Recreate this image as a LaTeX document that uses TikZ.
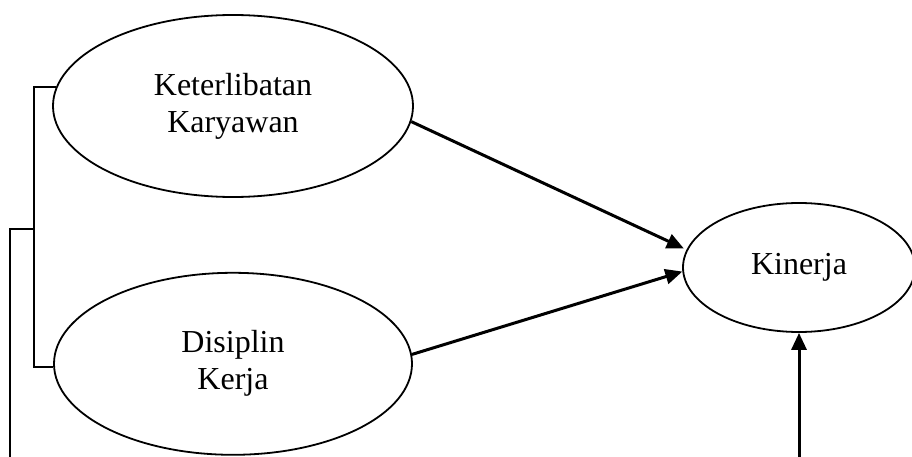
\documentclass[tikz,border=0pt]{standalone}
\usepackage{fontspec}
\setmainfont{Liberation Serif}
\usetikzlibrary{shapes.geometric, arrows.meta}
\usetikzlibrary{positioning}
\tikzset{
    every node/.style={font=\fontsize{32}{37}\selectfont},
    var node/.style={ellipse,draw,line width=1.8pt,align=center,inner sep=0pt}
}

\begin{document}
\begin{tikzpicture}[
            > = {Triangle[length=17pt,width=15pt]}, % arrow head style
            x = 1pt, y = -1pt, % pixel units
            line width = 1.8pt
        ]

        \useasboundingbox (0,0) rectangle (912,457);

        \node[var node, minimum width=360pt, minimum height=182pt] (ket) at (233,106) {Keterlibatan\\Karyawan};
        \node[var node, minimum width=358pt, minimum height=182pt] (dis) [below=74pt of ket] {Disiplin\\Kerja};
        \node[var node, minimum width=232pt, minimum height=129pt] (kin) at (799,267.5) {Kinerja};

        % bracket on the left
        \coordinate (brk) at (34,229);
        \coordinate (out) at (10,229);
        \coordinate (outend) at (10,457);
        \coordinate (kinin) at (799,457);

        \draw (ket.174) -| (brk) |- (dis.181);
        \draw (brk) -- (out) -- (outend);

        \draw[->, line width=3pt, shorten >=3pt] (ket.-5) -- (kin.171);
        \draw[->, line width=3pt] (dis.3) -- (kin.182);
        \draw[->, line width=3pt] (kinin) -- (kin.south);

  \end{tikzpicture}
\end{document}
